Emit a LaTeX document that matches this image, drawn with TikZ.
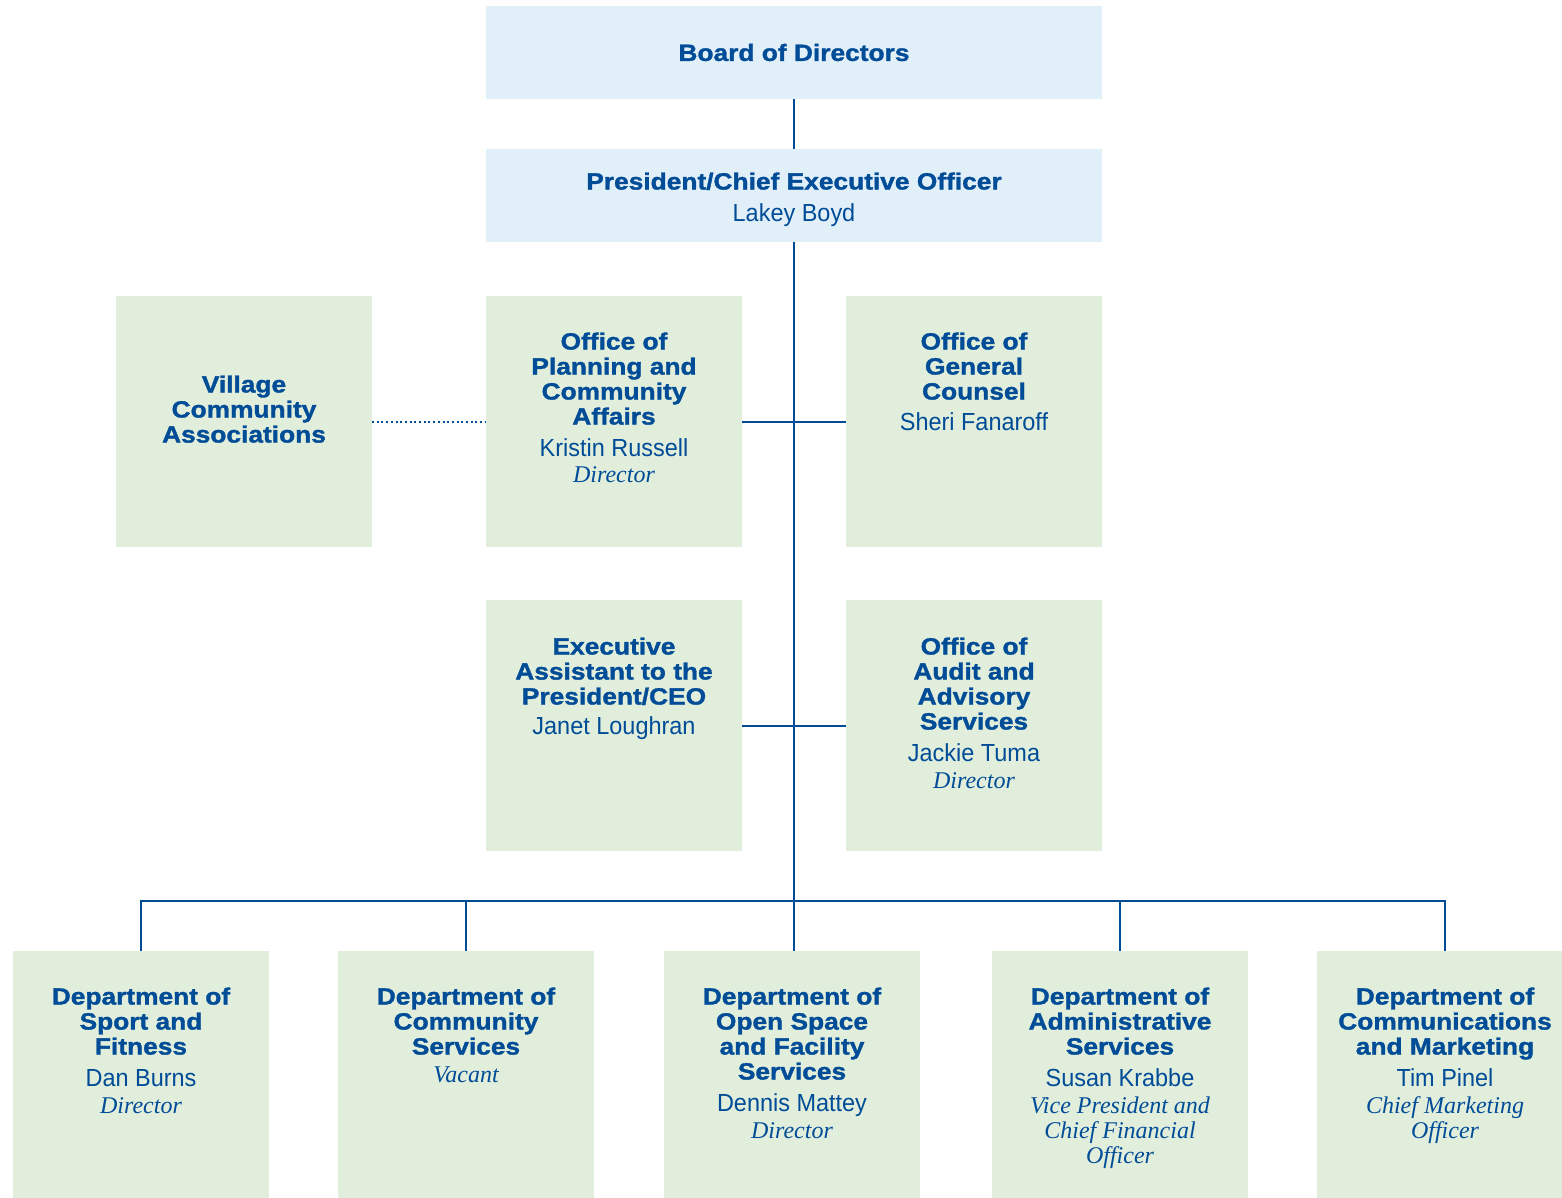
\documentclass[tikz,border=0pt]{standalone}
\usepackage{fontspec}
\setmainfont{Liberation Sans}
\newfontfamily\hvbfam{Liberation Sans}[FakeStretch=1.12,BoldFeatures={FakeBold=1.4}]
\newfontfamily\nmfam{Liberation Sans}[FakeStretch=0.95]
\newfontfamily\itfam{Liberation Serif}
\definecolor{navy}{HTML}{004C97}
\definecolor{boxblue}{HTML}{E1EFF9}
\definecolor{boxgreen}{HTML}{E2EEDC}
\newcommand\bt{\hvbfam\bfseries\fontsize{23.5}{25}\selectfont}
\newcommand\nm[1]{{\nmfam\mdseries\fontsize{24.7}{25}\selectfont #1}}
\newcommand\ti[1]{{\itfam\mdseries\itshape\fontsize{24}{25}\selectfont #1}}
\begin{document}
\begin{tikzpicture}[x=1pt,y=-1pt,
 box/.style={draw=none,inner sep=0,outer sep=0,anchor=north west,minimum width=256pt,minimum height=251pt},
 bluebox/.style={box,fill=boxblue,minimum width=616pt,minimum height=93pt},
 greenbox/.style={box,fill=boxgreen},
 txt/.style={align=center,inner sep=0,outer sep=0,anchor=north,text=navy,font=\bt},
 link/.style={draw=navy,line width=2pt}]
\useasboundingbox (0,0) rectangle (1562,1198);
% boxes
\node[bluebox] (board) at (486,6) {};
\node[bluebox] (pres) at (486,149) {};
\node[greenbox] (vca) at (116,296) {};
\node[greenbox] (plan) at (486,296) {};
\node[greenbox] (gc) at (846,296) {};
\node[greenbox] (ea) at (486,600) {};
\node[greenbox] (aud) at (846,600) {};
\node[greenbox,minimum height=248pt] (d1) at (13,951) {};
\node[greenbox,minimum height=248pt] (d2) at (338,951) {};
\node[greenbox,minimum height=248pt] (d3) at (664,951) {};
\node[greenbox,minimum height=248pt] (d4) at (992,951) {};
\node[greenbox,minimum height=248pt] (d5) at (1317,951) {};
% texts
\node[txt,anchor=center] (tboard) at (board.center) {Board of Directors};
\node[txt] (tpres) at (794,172.5) {President/Chief Executive Officer\\[7pt]\nm{Lakey Boyd}};
\node[txt] (tvca) at (244,375.5) {Village\\Community\\Associations};
\node[txt] (tplan) at (614,332.5) {Office of\\Planning and\\Community\\Affairs\\[6.5pt]\nm{Kristin Russell}\\[1pt]\ti{Director}};
\node[txt] (tgc) at (974,332.5) {Office of\\General\\Counsel\\[6pt]\nm{Sheri Fanaroff}};
\node[txt] (tea) at (614,637.5) {Executive\\Assistant to the\\President/CEO\\[5pt]\nm{Janet Loughran}};
\node[txt] (taud) at (974,637.5) {Office of\\Audit and\\Advisory\\Services\\[7pt]\nm{Jackie Tuma}\\[2pt]\ti{Director}};
\node[txt] (td1) at (141,987.5) {Department of\\Sport and\\Fitness\\[7pt]\nm{Dan Burns}\\[2pt]\ti{Director}};
\node[txt] (td2) at (466,987.5) {Department of\\Community\\Services\\[2.5pt]\ti{Vacant}};
\node[txt] (td3) at (792,987.5) {Department of\\Open Space\\and Facility\\Services\\[7pt]\nm{Dennis Mattey}\\[2pt]\ti{Director}};
\node[txt] (td4) at (1120,987.5) {Department of\\Administrative\\Services\\[7pt]\nm{Susan Krabbe}\\[2pt]\ti{Vice President and}\\\ti{Chief Financial}\\\ti{Officer}};
\node[txt] (td5) at (1445,987.5) {Department of\\Communications\\and Marketing\\[7pt]\nm{Tim Pinel}\\[2pt]\ti{Chief Marketing}\\\ti{Officer}};
% connectors
\coordinate (bus) at (794,901);
\draw[link] (board.south) -- (pres.north);
\draw[link] (pres.south) -- (pres.south |- d3.north);
\draw[link] (d1.north) |- (bus) -| (d5.north);
\draw[link] (d2.north) -- (d2.north |- bus);
\draw[link] (d4.north) -- (d4.north |- bus);
\draw[link] (plan.east) -- (gc.west);
\draw[link] (ea.east) -- (aud.west);
\draw[draw=navy,line width=2pt,dash pattern=on 2pt off 2.7pt] (vca.east) -- (plan.west);
\end{tikzpicture}
\end{document}
